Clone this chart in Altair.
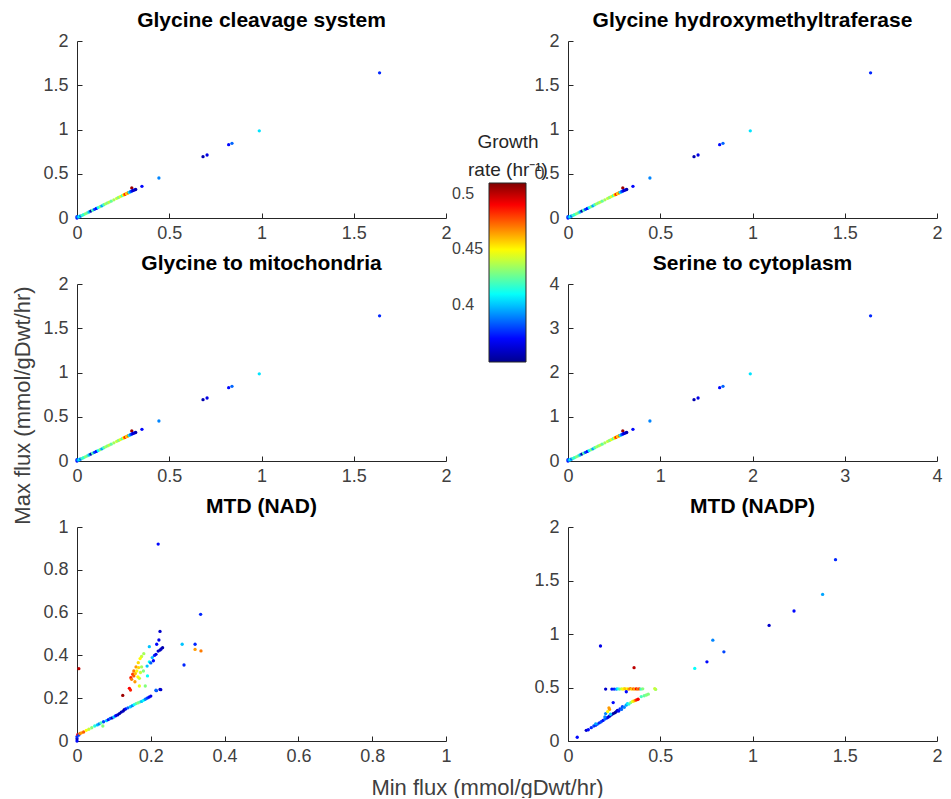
import altair as alt
import pandas as pd

FONT = "Liberation Sans"
AX = "#262626"

# ---------------- data ----------------
# Glycine cleavage system / hydroxymethyltraferase / to mitochondria (same values)
gcs_min = [0.000, 0.000, 0.005, 0.010, 0.015, 0.020, 0.028, 0.035, 0.045, 0.055,
           0.065, 0.075, 0.085, 0.095, 0.105, 0.115, 0.125, 0.135, 0.145, 0.155,
           0.165, 0.175, 0.185, 0.200, 0.215, 0.225, 0.235, 0.245, 0.252, 0.258,
           0.262, 0.268, 0.272, 0.278, 0.283, 0.288, 0.293, 0.297, 0.300, 0.305,
           0.312, 0.318, 0.352, 0.444, 0.683, 0.705, 0.822, 0.840, 0.988, 1.640]
gcs_max = [0.000, 0.015, 0.010, 0.012, 0.020, 0.022, 0.030, 0.038, 0.047, 0.057,
           0.068, 0.078, 0.088, 0.098, 0.108, 0.118, 0.128, 0.138, 0.150, 0.160,
           0.170, 0.180, 0.190, 0.205, 0.222, 0.232, 0.242, 0.252, 0.260, 0.265,
           0.270, 0.275, 0.280, 0.285, 0.290, 0.295, 0.300, 0.340, 0.308, 0.312,
           0.318, 0.322, 0.358, 0.452, 0.693, 0.712, 0.829, 0.844, 0.985, 1.640]
gcs_growth = [0.370, 0.375, 0.390, 0.400, 0.410, 0.385, 0.420, 0.415, 0.430, 0.425,
              0.400, 0.355, 0.420, 0.380, 0.370, 0.410, 0.430, 0.395, 0.420, 0.435,
              0.430, 0.440, 0.425, 0.435, 0.440, 0.430, 0.445, 0.420, 0.450, 0.470,
              0.485, 0.460, 0.455, 0.475, 0.410, 0.395, 0.380, 0.505, 0.370, 0.360,
              0.365, 0.355, 0.370, 0.390, 0.355, 0.365, 0.370, 0.385, 0.405, 0.375]

# Serine to cytoplasm
ser_min = [0.000, 0.000, 0.010, 0.020, 0.030, 0.040, 0.056, 0.070, 0.090, 0.110,
           0.130, 0.150, 0.170, 0.190, 0.210, 0.230, 0.250, 0.270, 0.290, 0.310,
           0.330, 0.350, 0.370, 0.400, 0.430, 0.450, 0.470, 0.490, 0.504, 0.516,
           0.524, 0.536, 0.544, 0.556, 0.566, 0.576, 0.586, 0.594, 0.600, 0.610,
           0.624, 0.636, 0.704, 0.888, 1.366, 1.410, 1.644, 1.680, 1.976, 3.280]
ser_max = [0.000, 0.030, 0.020, 0.024, 0.040, 0.044, 0.060, 0.076, 0.094, 0.114,
           0.136, 0.156, 0.176, 0.196, 0.216, 0.236, 0.256, 0.276, 0.300, 0.320,
           0.340, 0.360, 0.380, 0.410, 0.444, 0.464, 0.484, 0.504, 0.520, 0.530,
           0.540, 0.550, 0.560, 0.570, 0.580, 0.590, 0.600, 0.680, 0.616, 0.624,
           0.636, 0.644, 0.716, 0.904, 1.386, 1.424, 1.658, 1.688, 1.970, 3.280]
ser_growth = [0.370, 0.375, 0.390, 0.400, 0.410, 0.385, 0.420, 0.415, 0.430, 0.425,
              0.400, 0.355, 0.420, 0.380, 0.370, 0.410, 0.430, 0.395, 0.420, 0.435,
              0.430, 0.440, 0.425, 0.435, 0.440, 0.430, 0.445, 0.420, 0.450, 0.470,
              0.485, 0.460, 0.455, 0.475, 0.410, 0.395, 0.380, 0.505, 0.370, 0.360,
              0.365, 0.355, 0.370, 0.390, 0.355, 0.365, 0.370, 0.385, 0.405, 0.375]

# MTD (NAD)
nad_min = [0.000, 0.000, 0.000, 0.002, 0.005, 0.008, 0.012, 0.018, 0.025, 0.032,
           0.040, 0.048, 0.055, 0.060, 0.065, 0.070, 0.072, 0.080, 0.085, 0.090,
           0.095, 0.100, 0.105, 0.110, 0.115, 0.120, 0.125, 0.128, 0.132, 0.138,
           0.145, 0.150, 0.155, 0.160, 0.165, 0.170, 0.175, 0.180, 0.185, 0.190,
           0.195, 0.200, 0.215, 0.227,
           0.190, 0.196, 0.200, 0.204, 0.207, 0.210, 0.214, 0.216, 0.220, 0.222,
           0.225, 0.228, 0.232, 0.225, 0.196,
           0.181, 0.175, 0.171, 0.166, 0.160, 0.154, 0.151, 0.146, 0.154, 0.162,
           0.167, 0.175, 0.180, 0.191, 0.169, 0.157, 0.169, 0.185, 0.142, 0.145,
           0.124, 0.148, 0.158, 0.165, 0.172,
           0.005, 0.220, 0.335, 0.285, 0.320, 0.320, 0.336, 0.290, 0.225, 0.214]
nad_max = [0.000, 0.010, 0.020, 0.030, 0.028, 0.035, 0.038, 0.042, 0.050, 0.055,
           0.062, 0.070, 0.075, 0.080, 0.085, 0.070, 0.090, 0.095, 0.100, 0.105,
           0.108, 0.112, 0.118, 0.122, 0.128, 0.135, 0.140, 0.146, 0.150, 0.155,
           0.160, 0.165, 0.170, 0.175, 0.178, 0.182, 0.185, 0.190, 0.195, 0.200,
           0.205, 0.210, 0.235, 0.240,
           0.350, 0.370, 0.365, 0.390, 0.375, 0.400, 0.405, 0.452, 0.420, 0.472,
           0.425, 0.430, 0.436, 0.512, 0.441,
           0.408, 0.395, 0.385, 0.366, 0.346, 0.327, 0.312, 0.296, 0.304, 0.327,
           0.343, 0.346, 0.327, 0.304, 0.293, 0.277, 0.257, 0.257, 0.246, 0.238,
           0.213, 0.288, 0.315, 0.300, 0.320,
           0.338, 0.920, 0.592, 0.452, 0.452, 0.428, 0.421, 0.355, 0.241, 0.237]
nad_growth = [0.370, 0.360, 0.375, 0.490, 0.380, 0.470, 0.465, 0.475, 0.450, 0.440,
              0.430, 0.415, 0.400, 0.390, 0.420, 0.430, 0.380, 0.400, 0.370, 0.385,
              0.360, 0.400, 0.370, 0.360, 0.355, 0.355, 0.360, 0.350, 0.370, 0.385,
              0.400, 0.390, 0.410, 0.420, 0.430, 0.425, 0.400, 0.410, 0.390, 0.380,
              0.370, 0.365, 0.375, 0.360,
              0.400, 0.410, 0.385, 0.400, 0.370, 0.375, 0.365, 0.370, 0.360, 0.365,
              0.355, 0.360, 0.355, 0.360, 0.400,
              0.435, 0.440, 0.450, 0.455, 0.465, 0.470, 0.480, 0.485, 0.475, 0.450,
              0.455, 0.435, 0.430, 0.410, 0.440, 0.465, 0.445, 0.430, 0.490, 0.485,
              0.505, 0.470, 0.460, 0.450, 0.440,
              0.500, 0.370, 0.375, 0.400, 0.375, 0.465, 0.470, 0.375, 0.360, 0.385]

# MTD (NADP)
nadp_min = [0.050, 0.176, 0.358, 0.687, 0.753, 0.785, 0.845, 1.090, 1.225, 1.380, 1.450,
            0.204, 0.238, 0.250, 0.262, 0.270, 0.280, 0.290, 0.298, 0.306, 0.314,
            0.322, 0.330, 0.338, 0.346, 0.354, 0.362, 0.370, 0.378, 0.386, 0.395,
            0.405, 0.475, 0.470, 0.316,
            0.099, 0.110, 0.126, 0.140, 0.150, 0.160, 0.170, 0.180, 0.190, 0.200,
            0.210, 0.217, 0.225, 0.235, 0.245, 0.255, 0.262, 0.268, 0.275, 0.282,
            0.290, 0.295, 0.305, 0.315, 0.322, 0.330, 0.340, 0.350, 0.358, 0.365,
            0.372, 0.380, 0.397, 0.413, 0.425, 0.435, 0.230, 0.200, 0.150,
            0.222, 0.225, 0.245, 0.204, 0.215]
nadp_max = [0.035, 0.888, 0.685, 0.678, 0.740, 0.942, 0.833, 1.080, 1.215, 1.370, 1.695,
            0.485, 0.485, 0.485, 0.485, 0.488, 0.485, 0.488, 0.485, 0.490, 0.485,
            0.488, 0.485, 0.490, 0.485, 0.488, 0.485, 0.488, 0.485, 0.488, 0.485,
            0.488, 0.482, 0.490, 0.460,
            0.100, 0.105, 0.125, 0.140, 0.148, 0.158, 0.170, 0.180, 0.192, 0.205,
            0.215, 0.222, 0.232, 0.245, 0.255, 0.265, 0.275, 0.287, 0.280, 0.300,
            0.295, 0.320, 0.315, 0.335, 0.350, 0.345, 0.359, 0.370, 0.375, 0.380,
            0.385, 0.390, 0.415, 0.423, 0.430, 0.438, 0.250, 0.225, 0.160,
            0.310, 0.295, 0.359, 0.256, 0.275]
nadp_growth = [0.370, 0.365, 0.500, 0.410, 0.370, 0.390, 0.380, 0.360, 0.370, 0.395, 0.375,
               0.360, 0.370, 0.375, 0.390, 0.410, 0.425, 0.440, 0.450, 0.455, 0.460,
               0.450, 0.465, 0.470, 0.455, 0.475, 0.460, 0.490, 0.470, 0.480, 0.420,
               0.430, 0.435, 0.440, 0.370,
               0.360, 0.370, 0.375, 0.380, 0.370, 0.385, 0.375, 0.380, 0.370, 0.385,
               0.375, 0.365, 0.360, 0.360, 0.355, 0.350, 0.355, 0.360, 0.370, 0.375,
               0.385, 0.380, 0.390, 0.395, 0.405, 0.415, 0.430, 0.445, 0.455, 0.470,
               0.485, 0.490, 0.420, 0.425, 0.430, 0.430, 0.400, 0.390, 0.395,
               0.465, 0.465, 0.370, 0.390, 0.450]

# colour bar (jet) stops and ticks
cbar_stops = [0.349, 0.3691, 0.4092, 0.4493, 0.4894, 0.5095]
jet_colors = ["#00008f", "#0000ff", "#00ffff", "#ffff00", "#ff0000", "#800000"]
cbar_ticks = [0.4, 0.45, 0.5]

# ---------------- chart ----------------
jet = alt.Scale(domain=cbar_stops, range=jet_colors, interpolate="rgb", clamp=True)

legend = alt.Legend(
    orient="none", legendX=391, legendY=92, direction="vertical",
    gradientLength=179, gradientThickness=37,
    gradientStrokeColor=AX, gradientStrokeWidth=1,
    values=cbar_ticks,
    labelExpr="(abs(datum.value - 0.45) > 0.01 ? '\u2007' : '') + format(datum.value, '.2~f')",
    labelOffset={"expr": "-74"}, labelFontSize=16, labelFont=FONT,
    labelColor="#404040",
    title=["Growth\u00a0\u00a0\u00a0", "rate (hr\u207b\u00b9)"], titleFontSize=19,
    titleFont=FONT, titleFontWeight="normal", titleColor=AX, titleAlign="center",
    titleAnchor="middle", titleLineHeight=28, titlePadding=3, padding=0,
)


def panel(df, title, xmax, ymax, xticks, yticks, w, h, xtitle=None, ytitle=None,
          show_legend=False):
    xaxis = dict(values=xticks, format="~g", ticks=False, tickSize=0, grid=False,
                 domainColor=AX, domainWidth=1, labelColor="#404040",
                 labelFontSize=18, labelFont=FONT, labelPadding=6,
                 labelFlush=False, labelOverlap=False)
    yaxis = dict(values=yticks, format="~g", ticks=False, tickSize=0, grid=False,
                 domainColor=AX, domainWidth=1, labelColor="#404040",
                 labelFontSize=18, labelFont=FONT, labelPadding=9,
                 labelFlush=False, labelOverlap=False)
    if xtitle:
        xaxis.update(title=xtitle, titleX=410, titleY=46, titleAlign="center",
                     titleBaseline="middle", titleFontSize=22, titleFont=FONT,
                     titleFontWeight="normal", titleColor="#404040")
    else:
        xaxis.update(title=None)
    if ytitle:
        yaxis.update(title=ytitle, titleX=-55, titleY=121, titleAngle=270,
                     titleAlign="center", titleBaseline="middle",
                     titleFontSize=22, titleFont=FONT,
                     titleFontWeight="normal", titleColor="#404040")
    else:
        yaxis.update(title=None)

    xs = alt.Scale(domain=[0, xmax], nice=False, zero=False)
    ys = alt.Scale(domain=[0, ymax], nice=False, zero=False)
    base = alt.Chart(df)
    pts = base.mark_circle(size=11, opacity=1).encode(
        x=alt.X("min:Q", scale=xs, axis=alt.Axis(**xaxis)),
        y=alt.Y("max:Q", scale=ys, axis=alt.Axis(**yaxis)),
        color=alt.Color("growth:Q", scale=jet,
                        legend=legend if show_legend else None),
    )
    tk = base.mark_circle(size=1, opacity=0).encode(
        x=alt.X("min:Q", scale=xs,
                axis=alt.Axis(orient="top", offset=-h, values=xticks, labels=False,
                              domain=False, ticks=True, tickSize=5, tickColor=AX,
                              grid=False, title=None)),
        y=alt.Y("max:Q", scale=ys,
                axis=alt.Axis(orient="right", offset=-w, values=yticks, labels=False,
                              domain=False, ticks=True, tickSize=5, tickColor=AX,
                              grid=False, title=None)),
    )
    return alt.layer(pts, tk).resolve_axis(x="independent", y="independent").properties(
        width=w, height=h,
        title=alt.TitleParams(title, fontSize=21, fontWeight="bold", font=FONT,
                              color="#000000", frame="group", anchor="middle",
                              offset=1),
    )


df_gcs = pd.DataFrame({"min": gcs_min, "max": gcs_max, "growth": gcs_growth})
df_ser = pd.DataFrame({"min": ser_min, "max": ser_max, "growth": ser_growth})
df_nad = pd.DataFrame({"min": nad_min, "max": nad_max, "growth": nad_growth})
df_nadp = pd.DataFrame({"min": nadp_min, "max": nadp_max, "growth": nadp_growth})

t2 = [0, 0.5, 1, 1.5, 2]
t4 = [0, 1, 2, 3, 4]
t1 = [0, 0.2, 0.4, 0.6, 0.8, 1]
W, H, HB = 369, 177, 214

p1 = panel(df_gcs, "Glycine cleavage system", 2, 2, t2, t2, W, H, show_legend=True)
p2 = panel(df_gcs, "Glycine hydroxymethyltraferase", 2, 2, t2, t2, W, H)
p3 = panel(df_gcs, "Glycine to mitochondria", 2, 2, t2, t2, W, H,
           ytitle="Max flux (mmol/gDwt/hr)")
p4 = panel(df_ser, "Serine to cytoplasm", 4, 4, t4, t4, W, H)
p5 = panel(df_nad, "MTD (NAD)", 1, 1, t1, t1, W, HB,
           xtitle="Min flux (mmol/gDwt/hr)")
p6 = panel(df_nadp, "MTD (NADP)", 2, 2, t2, t2, W, HB)

chart = alt.concat(
    p1, p2, p3, p4, p5, p6, columns=2,
    spacing=alt.RowColnumber(column=122, row=66), bounds="flush",
).resolve_scale(color="shared").properties(
    padding={"left": 10, "top": 10, "right": 5, "bottom": 0},
    background="white",
).configure_view(stroke=None)

chart.save("out.html", embed_options={"renderer": "svg", "actions": False})
